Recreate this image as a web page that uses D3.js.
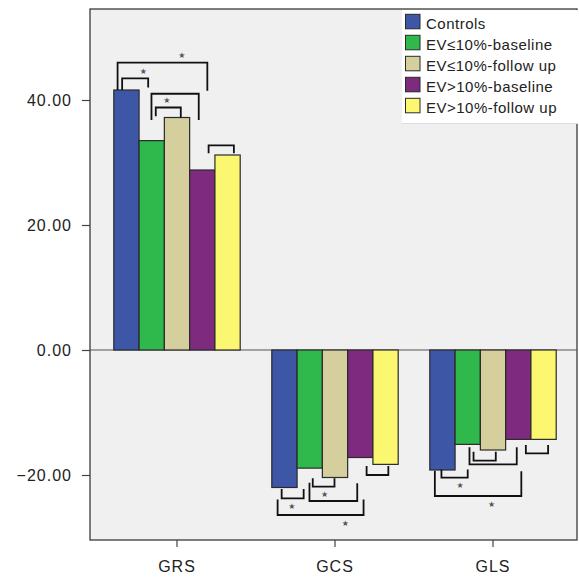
<!DOCTYPE html>
<html><head><meta charset="utf-8">
<script src="https://cdn.jsdelivr.net/npm/d3@7/dist/d3.min.js"></script>
<style>
html,body{margin:0;padding:0;background:#fff;}
svg{display:block;font-family:"Liberation Sans",Arial,sans-serif;}
</style></head><body>
<svg id="chart" width="579" height="577"></svg>
<script>
// ---- data ----
const groups = ["GRS", "GCS", "GLS"];
const seriesNames = ["Controls", "EV≤10%-baseline", "EV≤10%-follow up", "EV>10%-baseline", "EV>10%-follow up"];
const controls     = [41.6, -22.0, -19.2];
const evLowBase    = [33.5, -18.9, -15.1];
const evLowFollow  = [37.2, -20.4, -16.0];
const evHighBase   = [28.8, -17.2, -14.3];
const evHighFollow = [31.2, -18.3, -14.3];
const yTicks = [-20, 0, 20, 40];
const seriesColors = ["#3d56a6", "#2fb84b", "#d4cf9c", "#7e2a7e", "#fbf770"];
// significance brackets: legs given in bar-index units within the group, level/ends in value units
const bracketsGRS = [
  {from: 0.15, to: 3.70, level: 45.97, ends: [41.6, 41.5], star: 2.69},
  {from: 0.33, to: 1.36, level: 43.47, ends: [41.6, 42.0], star: 1.17},
  {from: 1.49, to: 3.36, level: 41.0,  ends: [36.8, 36.8], star: null},
  {from: 1.66, to: 2.65, level: 38.8,  ends: [37.4, 37.2], star: 2.10},
  {from: 3.75, to: 4.75, level: 32.75, ends: [31.5, 31.5], star: null}
];
const bracketsGCS = [
  {from: 0.39, to: 1.26, level: -23.73, ends: [-22.24, -22.24], star: 0.79},
  {from: 1.62, to: 2.48, level: -21.87, ends: [-20.53, -20.53], star: 2.09},
  {from: 1.49, to: 3.38, level: -24.16, ends: [-21.23, -21.33], star: null},
  {from: 0.23, to: 3.63, level: -26.4,  ends: [-23.9, -23.9],   star: 2.91},
  {from: 3.75, to: 4.61, level: -20.0,  ends: [-18.56, -18.56], star: null}
];
const bracketsGLS = [
  {from: 0.46, to: 1.50, level: -20.43, ends: [-19.1, -19.1],   star: 1.20},
  {from: 1.73, to: 2.61, level: -17.71, ends: [-16.27, -16.27], star: null},
  {from: 1.57, to: 3.44, level: -18.29, ends: [-15.57, -15.57], star: null},
  {from: 0.20, to: 3.62, level: -23.36, ends: [-19.3, -19.4],   star: 2.44},
  {from: 3.80, to: 4.68, level: -16.53, ends: [-15.2, -15.2],   star: null}
];

// ---- build ----
const seriesValues = [controls, evLowBase, evLowFollow, evHighBase, evHighFollow];
const bars = [];
groups.forEach((g, gi) => seriesValues.forEach((vals, si) => bars.push({group: g, series: seriesNames[si], si, value: vals[gi]})));
const bracketSets = [bracketsGRS, bracketsGCS, bracketsGLS];

const svg = d3.select("#chart");
const plot = {left: 90, right: 577, top: 9, bottom: 540};

const y = d3.scaleLinear().domain([-30.4, 54.56]).range([plot.bottom, plot.top]);
const x = d3.scaleBand().domain(groups).range([98, 572]).padding(0);
const x1 = d3.scaleBand().domain(seriesNames).range([x.bandwidth() * 0.1, x.bandwidth() * 0.9]).padding(0);
const xi = d3.scaleLinear().domain([0, seriesNames.length]).range(x1.range());
const color = d3.scaleOrdinal().domain(seriesNames).range(seriesColors);

// background
svg.append("rect").attr("x", plot.left).attr("y", plot.top)
  .attr("width", plot.right - plot.left).attr("height", plot.bottom - plot.top)
  .attr("fill", "#f0f0f0").attr("stroke", "#3a3a3a").attr("stroke-width", 1.3);

// zero line
svg.append("line").attr("x1", plot.left).attr("x2", plot.right)
  .attr("y1", y(0)).attr("y2", y(0)).attr("stroke", "#555").attr("stroke-width", 1.2);

// bars
svg.append("g").selectAll("rect").data(bars).join("rect")
  .attr("x", d => x(d.group) + x1(d.series))
  .attr("width", x1.bandwidth())
  .attr("y", d => Math.min(y(d.value), y(0)))
  .attr("height", d => Math.abs(y(d.value) - y(0)))
  .attr("fill", d => color(d.series))
  .attr("stroke", "#2a2a2a").attr("stroke-width", 1.2);

// brackets
const bg = svg.append("g");
bracketSets.forEach((set, gi) => {
  const gx = x(groups[gi]);
  set.forEach(b => {
    const xa = gx + xi(b.from), xb = gx + xi(b.to);
    const path = d3.path();
    path.moveTo(xa, y(b.ends[0]));
    path.lineTo(xa, y(b.level));
    path.lineTo(xb, y(b.level));
    path.lineTo(xb, y(b.ends[1]));
    bg.append("path").attr("d", path.toString()).attr("fill", "none")
      .attr("stroke", "#111").attr("stroke-width", 1.8);
    if (b.star !== null) {
      const off = b.level >= 0 ? -7 : 8;
      bg.append("text").attr("x", gx + xi(b.star)).attr("y", y(b.level) + off)
        .attr("text-anchor", "middle").attr("dominant-baseline", "central")
        .attr("font-family", "DejaVu Sans").attr("font-size", 8).attr("fill", "#555")
        .text("★");
    }
  });
});

// y axis
const yAxis = d3.axisLeft(y).tickValues(yTicks).tickFormat(d3.format(".2f")).tickSize(8).tickPadding(10);
const ya = svg.append("g").attr("transform", `translate(${plot.left},0)`).call(yAxis);
ya.select(".domain").remove();
ya.selectAll("line").attr("stroke", "#444").attr("stroke-width", 1.2);
ya.selectAll("text").attr("font-size", 16).attr("fill", "#222").attr("letter-spacing", 1)
  .attr("font-family", "Liberation Sans, Arial, sans-serif").attr("dy", "0.36em");

// x axis
const xAxis = d3.axisBottom(x).tickSize(7).tickPadding(14);
const xa = svg.append("g").attr("transform", `translate(0,${plot.bottom})`).call(xAxis);
xa.select(".domain").remove();
xa.selectAll("line").attr("stroke", "#444").attr("stroke-width", 1.2);
xa.selectAll("text").attr("font-size", 16).attr("fill", "#222").attr("letter-spacing", 1)
  .attr("font-family", "Liberation Sans, Arial, sans-serif");

// legend
const lg = svg.append("g");
lg.append("rect").attr("x", 402).attr("y", 10).attr("width", 176).attr("height", 113)
  .attr("fill", "#fff");
lg.append("line").attr("x1", 402).attr("x2", 578).attr("y1", 123.5).attr("y2", 123.5)
  .attr("stroke", "#ddd").attr("stroke-width", 1);
seriesNames.forEach((s, i) => {
  const by = 29.3 + i * 21;
  lg.append("rect").attr("x", 405.5).attr("y", by - 15).attr("width", 14.5).attr("height", 14.5)
    .attr("fill", color(s)).attr("stroke", "#2a2a2a").attr("stroke-width", 1);
  lg.append("text").attr("x", 426).attr("y", by).attr("font-size", 15).attr("letter-spacing", 0.5)
    .attr("fill", "#222").text(s);
});
</script>
</body></html>
